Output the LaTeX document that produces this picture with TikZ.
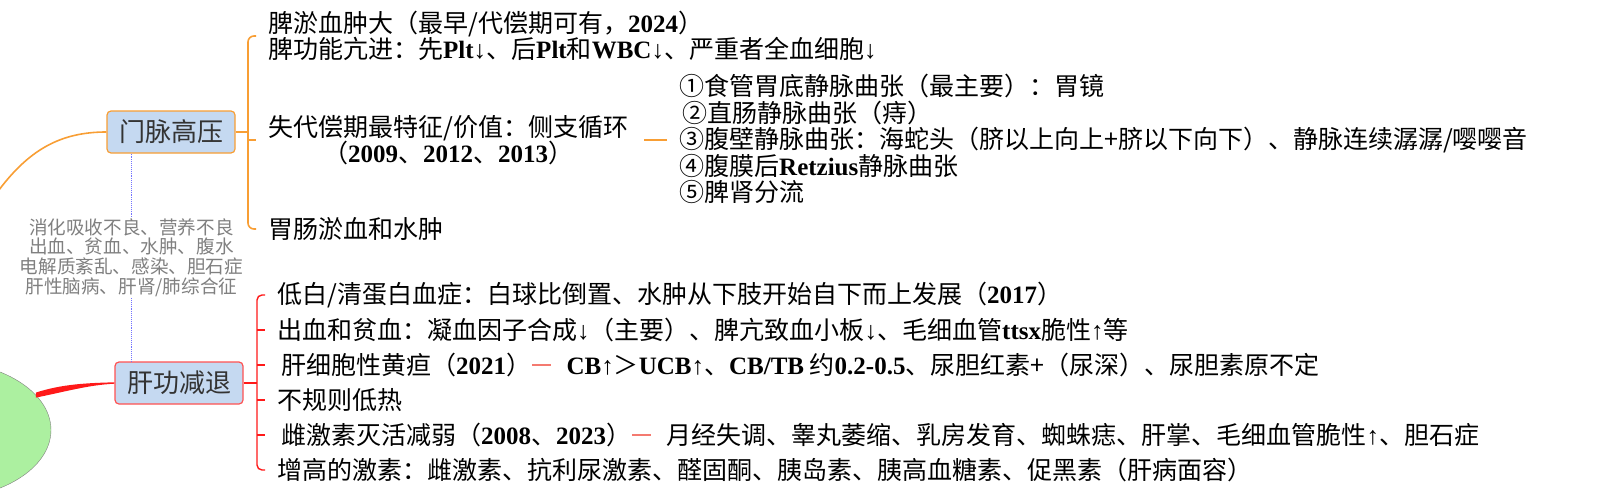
\documentclass[tikz,border=0pt]{standalone}
\usepackage{fontspec}
\setmainfont{Noto Sans CJK SC}
\newfontfamily\tnr{Liberation Serif}
\usepackage{tikz}
\usetikzlibrary{positioning,shapes.geometric}
\definecolor{phorange}{RGB}{248,158,52}
\definecolor{lfred}{RGB}{255,25,25}
\definecolor{lfdash}{RGB}{244,122,112}
\definecolor{topicblue}{RGB}{197,217,241}
\definecolor{rootgreen}{RGB}{172,240,160}
\newcommand{\bt}[1]{{\tnr\bfseries #1}}
\newcommand{\dwn}{{\tnr ↓}}
\newcommand{\upp}{{\tnr ↑}}
\newcommand{\itemsize}{\fontsize{25}{26.4}\selectfont}

\begin{document}
\begin{tikzpicture}[x=1pt,y=-1pt,
    topic/.style={draw,fill=topicblue,rounded corners=4pt,line width=1.2pt,
      minimum width=128pt,minimum height=42pt,text=black!80,
      font=\fontsize{26}{28}\selectfont},
    item/.style={anchor=west,inner sep=4pt,align=left,font=\itemsize},
    phline/.style={draw=phorange,line width=1.6pt},
    lfline/.style={draw=lfred,line width=1.4pt},
    lfdashline/.style={draw=lfdash,line width=1.4pt}]
  \useasboundingbox (0,0) rectangle (1613,495);
  \node[ellipse,draw=gray,fill=rootgreen,minimum width=222pt,minimum height=138pt,inner sep=0pt] (root) at (-60,430) {};
  \node[topic,draw=phorange] (ph) at (171,132) {门脉高压};
  \node[topic,draw=lfred!75] (lf) at (179,383) {肝功减退};
  \coordinate (phin) at (-4,194);
  \draw[phline] (phin) .. controls (28,150) and (60,132) .. (ph.west);
  \fill[lfred] ([yshift=2.5pt]root.20) .. controls (62,384) and (88,383) .. ([yshift=0.7pt]lf.west)
    -- ([yshift=-0.7pt]lf.west) .. controls (88,385) and (64,392) .. ([yshift=-2.5pt]root.20) -- cycle;
  \draw[densely dotted,draw=blue!55,line width=0.9pt] ([xshift=25pt]ph.south west) --
    node[fill=white,text=gray,align=center,inner sep=1pt,font=\fontsize{18.6}{19.7}\selectfont] (cx)
    {消化吸收不良、营养不良\\出血、贫血、水肿、腹水\\电解质紊乱、感染、胆石症\\肝性脑病、肝肾/肺综合征}
    ([xshift=17pt]lf.north west);
  % portal hypertension
  \node[item] (t1) at (264,36) {脾淤血肿大（最早/代偿期可有，\bt{2024}）\\脾功能亢进：先\bt{Plt}\dwn{}、后\bt{Plt}和\bt{WBC}\dwn{}、严重者全血细胞\dwn{}};
  \node[item,align=center] (t2) at (264,140) {失代偿期最特征/价值：侧支循环\\（\bt{2009}、\bt{2012}、\bt{2013}）};
  \node[item] (t3) at (264,229) {胃肠淤血和水肿};
  \node[item] (cc) at (675,139) {①食管胃底静脉曲张（最主要）：胃镜\\\hspace*{3pt}②直肠静脉曲张（痔）\\③腹壁静脉曲张：海蛇头（脐以上向上+脐以下向下）、静脉连续潺潺/嘤嘤音\\④腹膜后\bt{Retzius}静脉曲张\\⑤脾肾分流};
  \coordinate (ob) at (248,132);
  \draw[phline] (ph.east) -- (ob);
  \draw[phline,rounded corners=6pt,shorten <=8pt,shorten >=8pt] (t1.west) -- (ob |- t1.west) -- (ob |- t3.west) -- (t3.west);
  \draw[phline,shorten >=8pt] (ob |- t2.west) -- (t2.west);
  \draw[phline,shorten <=12pt,shorten >=8pt] (t2.east) -- (t2.east -| cc.west);
  % liver failure
  \node[item] (r1) at (273,295) {低白/清蛋白血症：白球比倒置、水肿从下肢开始自下而上发展（\bt{2017}）};
  \node[item] (r2) at (273,330) {出血和贫血：凝血因子合成\dwn{}（主要）、脾亢致血小板\dwn{}、毛细血管\bt{ttsx}脆性\upp{}等};
  \node[item] (r3a) at (273,365) {\hspace*{4pt}肝细胞性黄疸（\bt{2021}）};
  \node[item,base right=27pt of r3a] (r3b) {\bt{CB}\upp{}＞\bt{UCB}\upp{}、\bt{CB/TB} 约\bt{0.2-0.5}、尿胆红素+（尿深）、尿胆素原不定};
  \node[item] (r4) at (273,400) {不规则低热};
  \node[item] (r5a) at (273,435) {\hspace*{4pt}雌激素灭活减弱（\bt{2008}、\bt{2023}）};
  \node[item,base right=27pt of r5a] (r5b) {月经失调、睾丸萎缩、乳房发育、蜘蛛痣、肝掌、毛细血管脆性\upp{}、胆石症};
  \node[item] (r6) at (273,470) {增高的激素：雌激素、抗利尿激素、醛固酮、胰岛素、胰高血糖素、促黑素（肝病面容）};
  \coordinate (rb) at (257,383);
  \draw[lfline] (lf.east) -- (rb);
  \draw[lfline,rounded corners=5pt,shorten <=8pt,shorten >=8pt] (r1.west) -- (rb |- r1.west) -- (rb |- r6.west) -- (r6.west);
  \foreach \n in {r2,r3a,r4,r5a}
    \draw[lfline,shorten >=8pt] (rb |- \n.west) -- (\n.west);
  \draw[lfdashline,shorten >=11pt] ([xshift=-3pt]r3a.east) -- (r3a.east -| r3b.west);
  \draw[lfdashline,shorten >=11pt] ([xshift=-3pt]r5a.east) -- (r5a.east -| r5b.west);
\end{tikzpicture}
\end{document}
